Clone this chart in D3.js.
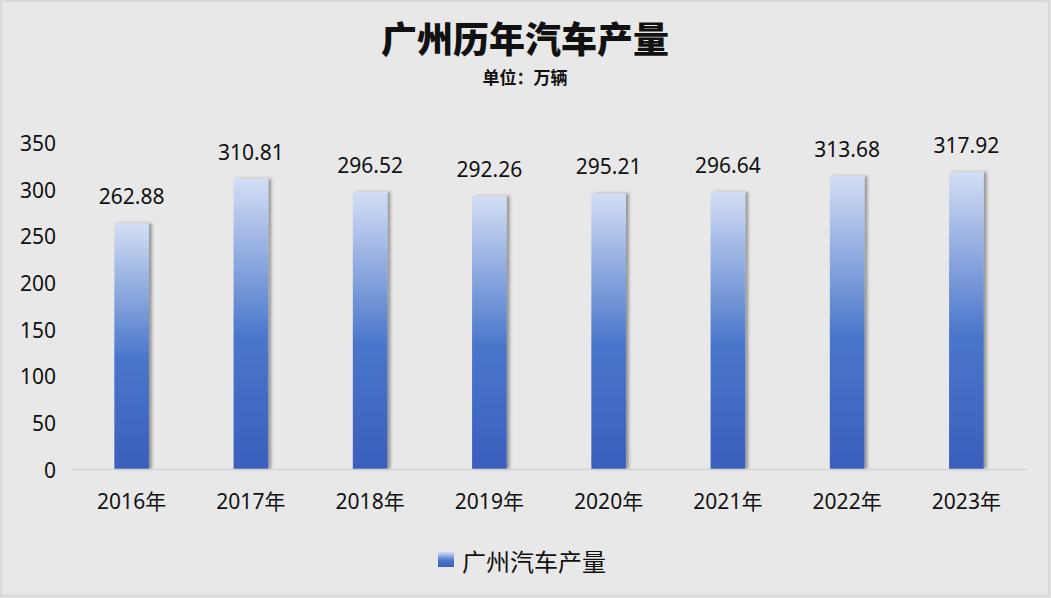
<!DOCTYPE html>
<html>
<head>
<meta charset="utf-8">
<script src="https://cdn.jsdelivr.net/npm/d3@7"></script>
<style>
  html, body { margin: 0; padding: 0; background: #e8e8e8; }
  svg text { font-family: 'Noto Sans', 'Noto Sans CJK SC', sans-serif; fill: #111; }
</style>
</head>
<body>
<div id="chart"></div>
<script>
const years = ['2016年', '2017年', '2018年', '2019年', '2020年', '2021年', '2022年', '2023年'];
const output = [262.88, 310.81, 296.52, 292.26, 295.21, 296.64, 313.68, 317.92];
const yTicks = [0, 50, 100, 150, 200, 250, 300, 350];
const seriesName = '广州汽车产量';
const title = '广州历年汽车产量';
const subtitle = '单位：万辆';

const width = 1051;
const height = 598;
const margin = { left: 72, right: 25, top: 142, bottom: 129 };

const svg = d3.select('#chart')
  .append('svg')
  .attr('width', width)
  .attr('height', height);

// gradient + soft shadow like the office chart
const defs = svg.append('defs');
const grad = defs.append('linearGradient')
  .attr('id', 'barGrad')
  .attr('x1', 0).attr('y1', 0).attr('x2', 0).attr('y2', 1);
grad.append('stop').attr('offset', '0%').attr('stop-color', '#d3def4');
grad.append('stop').attr('offset', '55%').attr('stop-color', '#4a76cb');
grad.append('stop').attr('offset', '100%').attr('stop-color', '#3a5fbc');

const shadow = defs.append('filter')
  .attr('id', 'shadow')
  .attr('x', '-20%').attr('y', '-5%')
  .attr('width', '160%').attr('height', '110%');
shadow.append('feDropShadow')
  .attr('dx', 3).attr('dy', 0)
  .attr('stdDeviation', 1.6)
  .attr('flood-color', '#000')
  .attr('flood-opacity', 0.35);

// frame
svg.append('rect')
  .attr('x', 1).attr('y', 1)
  .attr('width', width - 3).attr('height', height - 3)
  .attr('fill', '#e8e8e8')
  .attr('stroke', '#d9d9d9')
  .attr('stroke-width', 2.5);

const x = d3.scaleBand()
  .domain(years)
  .range([margin.left, width - margin.right]);

const y = d3.scaleLinear()
  .domain([0, 350])
  .range([height - margin.bottom, margin.top]);

const barW = x.bandwidth() * 0.29;

// title
svg.append('text')
  .attr('x', 525).attr('y', 37)
  .attr('text-anchor', 'middle')
  .attr('dominant-baseline', 'central')
  .style('font-family', "'Noto Sans CJK SC', sans-serif")
  .style('font-weight', 900)
  .style('font-size', '36px')
  .text(title);

svg.append('text')
  .attr('x', 525).attr('y', 76)
  .attr('text-anchor', 'middle')
  .attr('dominant-baseline', 'central')
  .style('font-family', "'Noto Sans CJK SC', sans-serif")
  .style('font-weight', 700)
  .style('font-size', '17px')
  .text(subtitle);

// y axis labels (no line)
const yAxis = svg.append('g')
  .attr('transform', 'translate(' + (margin.left - 16) + ',0)')
  .call(d3.axisLeft(y).tickValues(yTicks).tickSize(0).tickPadding(0));
yAxis.select('.domain').remove();
yAxis.selectAll('text')
  .style('font-size', '21px')
  .style('font-family', "'Noto Sans', sans-serif")
  .attr('fill', '#111')
  .attr('dy', '0.4em');

// bars
svg.append('g')
  .selectAll('rect')
  .data(output)
  .enter()
  .append('rect')
  .attr('x', (d, i) => x(years[i]) + x.bandwidth() / 2 - barW / 2)
  .attr('width', barW)
  .attr('y', d => y(d))
  .attr('height', d => y(0) - y(d))
  .attr('fill', 'url(#barGrad)')
  .attr('filter', 'url(#shadow)');

// x axis
const xAxis = svg.append('g')
  .attr('transform', 'translate(0,' + y(0) + ')')
  .call(d3.axisBottom(x).tickSize(0).tickPadding(25));
xAxis.select('.domain')
  .attr('stroke', '#d2d2d2')
  .attr('stroke-width', 1.5);
xAxis.selectAll('text')
  .style('font-size', '21px')
  .style('font-family', "'Noto Sans', 'Noto Sans CJK SC', sans-serif")
  .attr('fill', '#111');

// value labels
svg.append('g')
  .selectAll('text')
  .data(output)
  .enter()
  .append('text')
  .attr('x', (d, i) => x(years[i]) + x.bandwidth() / 2)
  .attr('y', d => y(d) - 19)
  .attr('text-anchor', 'middle')
  .style('font-size', '21px')
  .text(d => d.toFixed(2));

// legend
const legend = svg.append('g').attr('transform', 'translate(438,552)');
legend.append('rect')
  .attr('width', 16).attr('height', 15)
  .attr('fill', 'url(#barGrad)');
legend.append('text')
  .attr('x', 24).attr('y', 8)
  .attr('dominant-baseline', 'central')
  .style('font-family', "'Noto Sans CJK SC', sans-serif")
  .style('font-size', '24px')
  .text(seriesName);
</script>
</body>
</html>
